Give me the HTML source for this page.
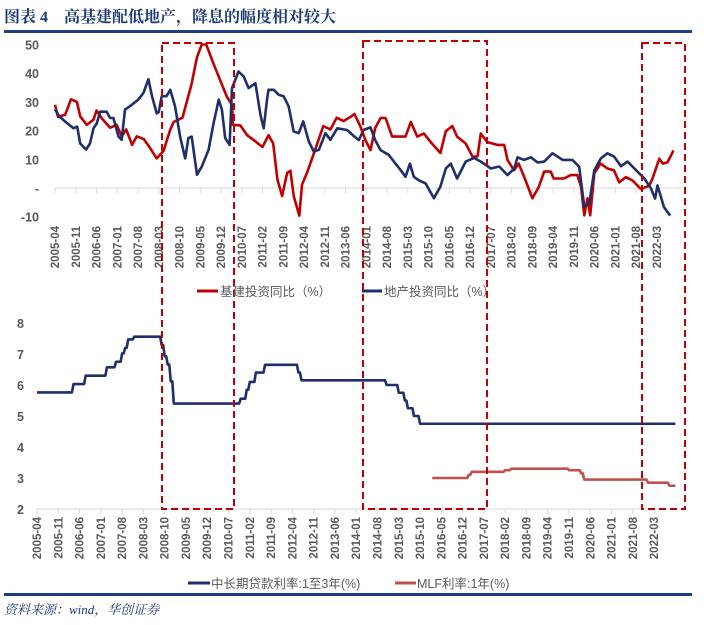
<!DOCTYPE html>
<html><head><meta charset="utf-8">
<style>
body{margin:0;background:#fff;width:714px;height:625px;overflow:hidden;font-family:"Liberation Sans","Noto Sans CJK SC",sans-serif;}
svg{display:block}
</style></head>
<body>
<svg id="chart" width="714" height="625" viewBox="0 0 714 625" xmlns="http://www.w3.org/2000/svg">
<text x="4" y="22" font-family="Liberation Serif,Noto Serif CJK SC,serif" font-size="16" font-weight="bold" fill="#1f3a78">图表 4　高基建配低地产，降息的幅度相对较大</text>
<rect x="4" y="30" width="688" height="3" fill="#1f3f80"/>
<rect x="4" y="593" width="688" height="3" fill="#1f3f80"/>
<text x="4" y="614" font-family="Liberation Serif,Noto Serif CJK SC,serif" font-style="italic" font-size="13" fill="#1f3a78">资料来源：wind，华创证券</text>
<g id="topChart"></g>
<g id="botChart"></g>
<g id="boxes"></g>
<g>
<line x1="197" y1="291" x2="218" y2="291" stroke="#c00000" stroke-width="3"/>
<text x="220" y="296" font-size="12.5" fill="#595959">基建投资同比（%）</text>
<line x1="362" y1="291" x2="382" y2="291" stroke="#1f2f6b" stroke-width="3"/>
<text x="384" y="296" font-size="12.5" fill="#595959">地产投资同比（%）</text>
</g>
<g>
<line x1="188" y1="583" x2="210" y2="583" stroke="#1f2f6b" stroke-width="3"/>
<text x="211" y="588" font-size="12.5" fill="#595959">中长期贷款利率:1至3年(%)</text>
<line x1="395" y1="583" x2="416" y2="583" stroke="#c0504d" stroke-width="3"/>
<text x="417" y="588" font-size="12.5" fill="#595959">MLF利率:1年(%)</text>
</g>
</svg>
<script>
// month index: 0 = 2005-04
const tickLabels=["2005-04","2005-11","2006-06","2007-01","2007-08","2008-03","2008-10","2009-05","2009-12","2010-07","2011-02","2011-09","2012-04","2012-11","2013-06","2014-01","2014-08","2015-03","2015-10","2016-05","2016-12","2017-07","2018-02","2018-09","2019-04","2019-11","2020-06","2021-01","2021-08","2022-03"];
const topTicks=[50,40,30,20,10,0,-10];
const botTicks=[8,7,6,5,4,3,2];
const infraMonths=[0,1,3.4,5.4,7.4,8.5,10.7,13,14,16,18.6,20.8,22.5,24,26,27.6,30,32,34.3,36.6,38.9,40,43,46,47.9,49.5,51,53.4,55.7,58,59.7,60,62.5,64.8,67,70,72,73.6,75,76.6,78.3,79.4,80.5,82.4,83.3,85,87.2,90.5,92.9,95,97.3,99.7,101,103,104.7,106.4,108,109.8,111.5,113.7,118.2,120,122.2,124.4,126.7,130,131.8,134,135.6,138.5,140.8,142.5,143.6,145.8,149.2,151.5,152.6,154.8,156.4,158.2,161,163.2,165,167.2,168.2,171.6,174,176.2,177.4,178.5,179.6,180.5,181.9,184,186.3,188.5,190.3,192.5,194.8,197.6,200.4,201.5,203.8,205,206.6,208.6];
const infraVals=[29,24.8,25.5,30.9,30,25,22,23.8,27,24,21,22,18,20.4,15,18,17,14,10.3,12.9,20.4,23,24.5,36,45.6,51,51,43.5,37.5,31.7,29,22,21.8,18.4,16.7,14.3,18.4,15.5,3,-2.8,5.3,6,-2.8,-9.6,1.2,5.3,11.7,21.6,20.4,24.5,23.3,24.8,25.8,21.4,16.7,13.2,20.9,24.4,24.4,17.9,17.9,23,17.9,19,16,12.2,19.8,21.6,17.9,15.5,10.9,11,19,16,15,15,9.8,6.2,8.5,3.9,-3.6,0.5,5.7,5.7,3.3,3.3,4.5,4.5,0.5,-9.5,-3.6,-9.5,5.1,8.5,6.8,6.2,2,3.8,2.6,-0.4,0.8,3.2,10.2,8.5,9,13.1];
const estateMonths=[0,1.4,3.6,6.2,7.5,8.5,10.5,11.8,13,14.1,15.2,17.4,18.6,19.7,21.4,22.5,23.6,25.3,28.1,29.8,31.5,32.7,34.3,35,36,37.6,38.9,40.5,42.2,43.9,45,46.1,47.9,49.5,51.8,53.5,55.2,56.3,57.4,58.9,59.7,61.9,63.6,65.3,67.6,69.3,70.4,71.5,72,73.8,75.4,77.1,78.8,80.5,82.2,83.7,85.6,87.3,89,91.2,92.9,95.2,98.5,100.8,102.5,104,106.4,108,109.8,112.6,114.3,116.6,118.2,119.7,121,122.7,125,127.8,130,131.8,133.5,135.6,138.5,141.3,143.6,147,149.8,152.6,154.9,156,158.2,160.5,162.8,165,167.8,171.2,174.5,176.8,178.5,180.2,181.9,184.1,186.3,188.6,190.9,193.1,195.4,198.8,201,202.4,203.2,205.4,207.5];
const estateVals=[27.4,25,23,20.8,21.4,15.5,13.4,15.5,20.8,22.5,26.6,26.6,24.4,24.4,17.9,16.8,27.3,28.5,30.8,33.1,37.9,32,26,26.5,32,32,34.2,28.4,17.9,10.3,17.4,17.9,4.6,7.5,13.3,22.6,30.8,27.3,17.4,15,34.8,40.6,38.9,34.8,36.5,25.4,20.8,30.8,34.2,34.2,32.5,32,28.5,19.7,19.1,23.2,16.2,12.7,13.3,19.1,16.8,20.8,20.2,18.1,16.7,20.2,21.1,16.7,13.2,11.5,9.2,6.2,3.9,8.5,3.9,2.7,1.6,-3.6,0.5,6.8,8.5,3.3,9.2,10.5,9.2,6.8,7.5,4.5,6.8,10.7,9.8,10.7,8.9,9.2,12.1,9.8,9.8,7.4,-6.5,-5.3,6.2,10.3,12.1,10.9,7.6,9.2,6.8,3.3,-0.2,-3.7,0.9,-6.7,-9.6];
const loanMonths=[0,12,16,23,26,28,29,30,32,41,42,43,44,45,66,67,69,70,72,75,86,87,115,119,121,122,124,126,210];
const loanVals=[5.76,6.03,6.30,6.57,6.75,7.02,7.20,7.47,7.56,7.29,6.93,6.66,6.12,5.40,5.40,5.56,5.85,6.10,6.40,6.65,6.40,6.15,6.00,5.75,5.50,5.25,5.00,4.75,4.75];
const mlfMonths=[130,141,142,143,152,154,156,174,175,178,179,180,200,201,207,208,210];
const mlfVals=[3.00,3.00,3.10,3.20,3.20,3.25,3.30,3.30,3.25,3.25,3.15,2.95,2.95,2.85,2.85,2.75,2.75];

const NS="http://www.w3.org/2000/svg";
function mk(tag,attrs,parent,txt){const e=document.createElementNS(NS,tag);for(const k in attrs)e.setAttribute(k,attrs[k]);if(txt!==undefined)e.textContent=txt;parent.appendChild(e);return e;}
const tx=m=>55+m*2.965, ty=v=>188-v*2.87;
const bx=m=>37+m*3.04, by=v=>509-(v-2)*31;
const topG=document.getElementById('topChart'), botG=document.getElementById('botChart'), boxesG=document.getElementById('boxes');
const axisFont="Liberation Sans, sans-serif";

topTicks.forEach(t=>{const e=mk('text',{x:39,y:ty(t)+5,'text-anchor':'end','font-size':12.5,'font-weight':'bold',fill:'#595959','font-family':axisFont},topG,t===0?'-':String(t));

});
const tAx=mk('line',{x1:55,y1:188,x2:681,y2:188,stroke:'#d9d9d9','stroke-width':1},topG);


tickLabels.forEach((l,i)=>{const x=tx(i*7);mk('line',{x1:x,y1:188,x2:x,y2:193,stroke:'#d9d9d9'},topG);
const e=mk('text',{transform:`translate(${x+4},226) rotate(-90)`,'text-anchor':'end','font-size':11.5,'font-weight':'bold',fill:'#595959','font-family':axisFont},topG,l);

});
function poly(ms,vs,fx,fy,color,parent,name,clipTop){let d='';ms.forEach((m,i)=>{let v=vs[i];if(clipTop!==undefined)v=Math.min(v,clipTop);d+=(i?'L':'M')+fx(m).toFixed(1)+','+fy(v).toFixed(1);});
const p=mk('path',{d:d,fill:'none',stroke:color,'stroke-width':2.6,'stroke-linejoin':'round'},parent);

}
poly(infraMonths,infraVals,tx,ty,'#c00000',topG,'infra-investment-line',50);
poly(estateMonths,estateVals,tx,ty,'#1f2f6b',topG,'real-estate-investment-line');

botTicks.forEach(t=>{const e=mk('text',{x:24,y:by(t)+5,'text-anchor':'end','font-size':12.5,'font-weight':'bold',fill:'#595959','font-family':axisFont},botG,String(t));

});
const bAx=mk('line',{x1:37,y1:509,x2:677,y2:509,stroke:'#d9d9d9'},botG);


tickLabels.forEach((l,i)=>{const x=bx(i*7);mk('line',{x1:x,y1:509,x2:x,y2:514,stroke:'#d9d9d9'},botG);
const e=mk('text',{transform:`translate(${x+4},517) rotate(-90)`,'text-anchor':'end','font-size':11.5,'font-weight':'bold',fill:'#595959','font-family':axisFont},botG,l);

});
function step(ms,vs,color,name){let d='';ms.forEach((m,i)=>{const x=bx(m),y=by(vs[i]);if(i===0)d+='M'+x+','+y;else{d+='L'+(x-1.5)+','+by(vs[i-1])+'L'+x+','+y;}});
const p=mk('path',{d:d,fill:'none',stroke:color,'stroke-width':2.6,'stroke-linejoin':'round'},botG);

}
step(loanMonths,loanVals,'#1f2f6b','loan-rate-line');
step(mlfMonths,mlfVals,'#c0504d','mlf-rate-line');

[[162,43,234,509],[363,41,487,509],[642,43,685,509]].forEach(b=>{const r=mk('rect',{x:b[0],y:b[1],width:b[2]-b[0],height:b[3]-b[1],fill:'none',stroke:'#c00000','stroke-width':2,'stroke-dasharray':'7,4'},boxesG);

});
</script>
</body></html>
